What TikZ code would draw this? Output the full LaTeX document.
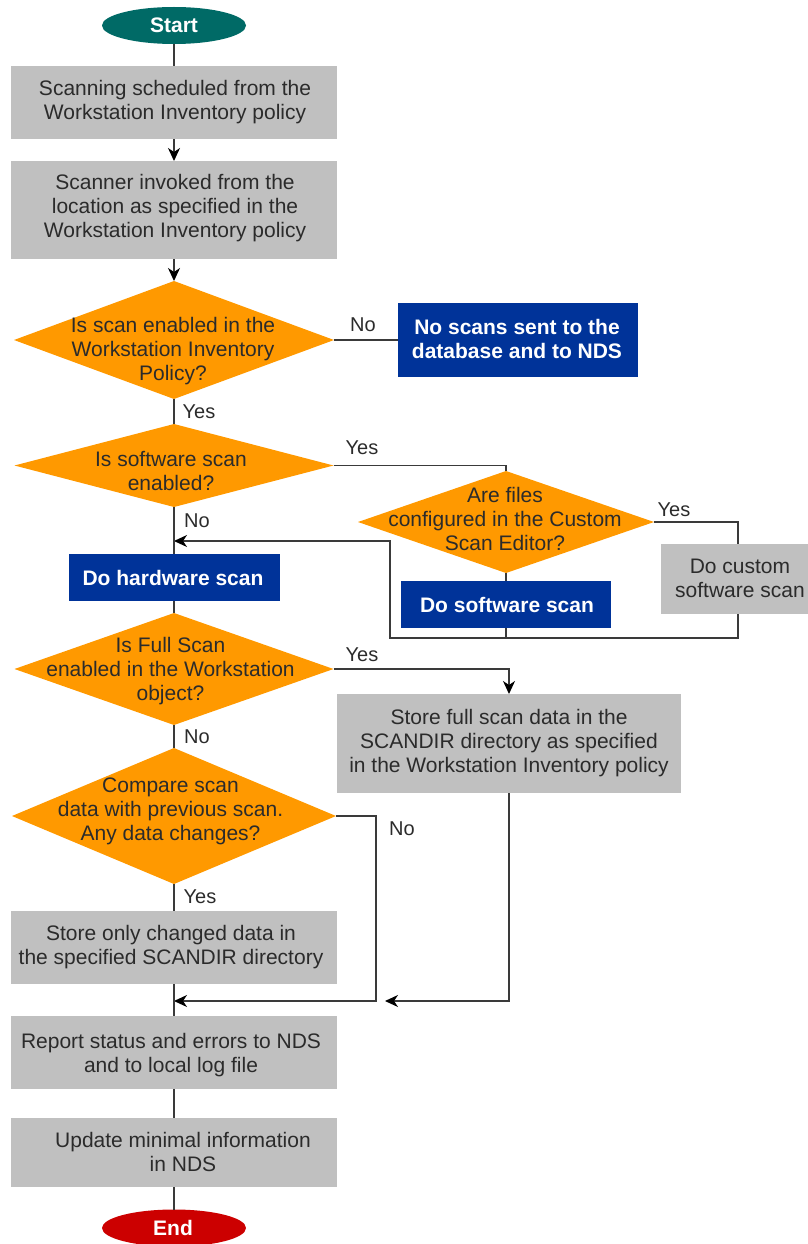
\documentclass[tikz,border=0pt]{standalone}
\usepackage{fontspec}
\setmainfont{Liberation Sans}
\usetikzlibrary{shapes.geometric,arrows.meta}
\definecolor{startteal}{HTML}{006A66}
\definecolor{endred}{HTML}{CC0000}
\definecolor{boxgray}{HTML}{C0C0C0}
\definecolor{boxblue}{HTML}{003399}
\definecolor{decorange}{HTML}{FF9900}
\definecolor{linegray}{HTML}{3A3A3A}
\definecolor{textgray}{HTML}{2B2B2B}
\begin{document}
\begin{tikzpicture}[x=1pt,y=-1pt,
  every node/.style={inner sep=0pt, outer sep=0pt},
  graybox/.style={rectangle, fill=boxgray},
  bluebox/.style={rectangle, fill=boxblue},
  decision/.style={diamond, fill=decorange},
  terminal/.style={ellipse, minimum width=144pt, minimum height=37pt},
  txt/.style={font=\fontsize{21}{24}\selectfont, align=center, text=textgray},
  wtxt/.style={font=\fontsize{21}{24}\selectfont\bfseries, align=center, text=white},
  lbl/.style={font=\fontsize{20}{24}\selectfont, text=textgray},
  conn/.style={draw=linegray, line width=1.2pt},
  arr/.style={conn, -{Stealth[length=13pt,width=12pt,inset=4pt,color=black]}},
]
\useasboundingbox (0,0) rectangle (807,1244);

% ---- shapes ----
\node[terminal, fill=startteal] (start) at (174,25.5) {};
\node[graybox, minimum width=326pt, minimum height=73pt] (b1) at (174,102.5) {};
\node[graybox, minimum width=326pt, minimum height=98pt] (b2) at (174,210) {};
\node[decision, minimum width=320pt, minimum height=118pt] (d1) at (174,340) {};
\node[bluebox, minimum width=240pt, minimum height=74pt] (blue1) at (518,340) {};
\node[decision, minimum width=319pt, minimum height=83pt] (d2) at (174,465.5) {};
\node[decision, minimum width=296pt, minimum height=102pt] (d3) at (506,522) {};
\node[graybox, minimum width=154pt, minimum height=70pt] (custom) at (738,579) {};
\node[bluebox, minimum width=210pt, minimum height=47pt] (sw) at (506,604.5) {};
\node[bluebox, minimum width=211pt, minimum height=47pt] (hw) at (174,577.5) {};
\node[decision, minimum width=319pt, minimum height=112pt] (d4) at (174,669) {};
\node[graybox, minimum width=344pt, minimum height=99pt] (full) at (509,743.5) {};
\node[decision, minimum width=324pt, minimum height=136pt] (d5) at (174,816) {};
\node[graybox, minimum width=326pt, minimum height=73pt] (b6) at (174,947.5) {};
\node[graybox, minimum width=326pt, minimum height=73pt] (b7) at (174,1052.5) {};
\node[graybox, minimum width=326pt, minimum height=69pt] (b8) at (174,1152.5) {};
\node[terminal, fill=endred] (end) at (174,1228) {};

% ---- texts ----
\node[wtxt] (startt) at (174,25) {Start};
\node[txt] (b1t) at (175,102.5) {Scanning scheduled from the\\Workstation Inventory policy};
\node[txt] (b2t) at (175,208) {Scanner invoked from the\\location as specified in the\\Workstation Inventory policy};
\node[txt] (d1t) at (173,351) {Is scan enabled in the\\Workstation Inventory\\Policy?};
\node[wtxt] (blue1t) at (517,339) {No scans sent to the\\database and to NDS};
\node[txt] (d2t) at (171,471) {Is software scan\\enabled?};
\node[txt] (d3t) at (505,519) {Are files\\configured in the Custom\\Scan Editor?};
\node[txt] (customt) at (740,578) {Do custom\\software scan};
\node[wtxt] (swt) at (507,605) {Do software scan};
\node[wtxt] (hwt) at (173,578) {Do hardware scan};
\node[txt] (d4t) at (170.5,671) {Is Full Scan\\enabled in the Workstation\\object?};
\node[txt] (fullt) at (509,743) {Store full scan data in the\\SCANDIR directory as specified\\in the Workstation Inventory policy};
\node[txt] (d5t) at (170.5,811) {Compare scan\\data with previous scan.\\Any data changes?};
\node[txt] (b6t) at (171,947.5) {Store only changed data in\\the specified SCANDIR directory};
\node[txt] (b7t) at (171,1055) {Report status and errors to NDS\\and to local log file};
\node[txt] (b8t) at (183,1151.5) {Update minimal information\\in NDS};
\node[wtxt] (endt) at (173,1228) {End};

% ---- branch labels ----
\node[lbl] (l1) at (363,325) {No};
\node[lbl] (l2) at (199,412) {Yes};
\node[lbl] (l3) at (362,448) {Yes};
\node[lbl] (l4) at (197,521) {No};
\node[lbl] (l5) at (674,510) {Yes};
\node[lbl] (l6) at (362,655) {Yes};
\node[lbl] (l7) at (197,737) {No};
\node[lbl] (l8) at (402,829) {No};
\node[lbl] (l9) at (200,897) {Yes};

% ---- routing points ----
\coordinate (loopb) at (390,638);
\coordinate (loopt) at (390,541);
\coordinate (noB) at (376,1001);
\coordinate (merge) at (174,1001);
\coordinate (merge2) at (385,1001);

% ---- connectors ----
\draw[conn] (start) -- (b1);
\draw[arr] (b1) -- (b2);
\draw[arr] (b2) -- (d1);
\draw[conn] (d1.east) -- (blue1.west);
\draw[conn] (d1) -- (d2);
\draw[conn] (d2.east) -| (d3.north);
\draw[conn] (d3.east) -| (custom.north);
\draw[conn] (d3) -- (sw);
\draw[conn] (sw.south) -- (sw.south |- loopb);
\draw[arr] (custom.south) |- (loopb) -- (loopt) -- (loopt -| d2.south);
\draw[conn] (d2) -- (hw);
\draw[conn] (hw) -- (d4);
\draw[arr] (d4.east) -| (full.north);
\draw[conn] (d4) -- (d5);
\draw[arr] (d5.east) -| (noB) -- (merge);
\draw[arr] (full.south) |- (merge2);
\draw[conn] (d5) -- (b6);
\draw[conn] (b6) -- (b7);
\draw[conn] (b7) -- (b8);
\draw[conn] (b8) -- (end);
\end{tikzpicture}
\end{document}
